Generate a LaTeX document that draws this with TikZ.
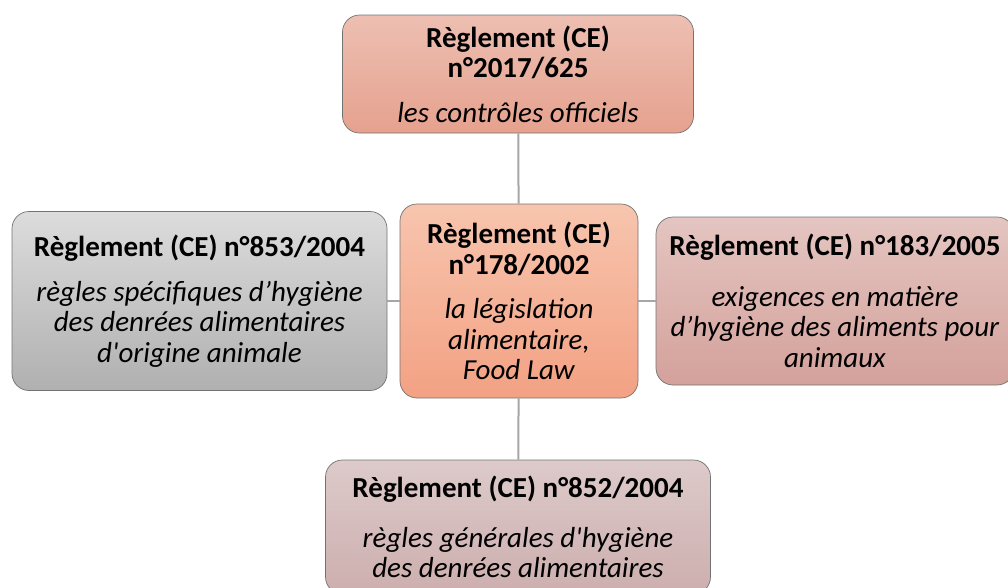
\documentclass[tikz,border=0pt]{standalone}
\usepackage{fontspec}
\setmainfont{Carlito}
\usepackage{tikz}

\definecolor{ctrlTop}{HTML}{EDBFB2}
\definecolor{ctrlBot}{HTML}{E6A18E}
\definecolor{foodTop}{HTML}{F7C5AE}
\definecolor{foodBot}{HTML}{F3A183}
\definecolor{anTop}{HTML}{DCDCDC}
\definecolor{anBot}{HTML}{B0B0B0}
\definecolor{feedTop}{HTML}{E4C5C1}
\definecolor{feedBot}{HTML}{D4A19B}
\definecolor{genTop}{HTML}{DDCACA}
\definecolor{genBot}{HTML}{CDAEAE}
\definecolor{linkgray}{HTML}{A6A6A6}

\tikzset{
	regbox/.style={shape=rectangle,rounded corners=17pt,draw=black!55,line width=0.7pt,
		align=center,inner sep=0pt,font=\fontsize{29}{30.5}\selectfont},
	link/.style={draw=linkgray,line width=2pt},
}

\begin{document}
\begin{tikzpicture}[x=1pt,y=-1pt]
	\useasboundingbox (0,0) rectangle (1008,587);

	\node [regbox,minimum width=351,minimum height=118,top color=ctrlTop,bottom color=ctrlBot] (CO) at (518,74) {\textbf{Règlement (CE)}\\\textbf{n°2017/625}\\[14pt]\textit{les contrôles officiels}};
	\node [regbox,minimum width=238,minimum height=194,top color=foodTop,bottom color=foodBot] (FL) at (519,301) {\textbf{Règlement (CE)}\\\textbf{n°178/2002}\\[14pt]\textit{la législation}\\\textit{alimentaire,}\\\textit{Food Law}};
	\node [regbox,minimum width=375,minimum height=179,top color=anTop,bottom color=anBot] (AN) at (199.5,301) {\textbf{Règlement (CE) n°853/2004}\\[14pt]\textit{règles spécifiques d’hygiène}\\\textit{des denrées alimentaires}\\\textit{d\textquotesingle origine animale}};
	\node [regbox,minimum width=358,minimum height=168,top color=feedTop,bottom color=feedBot] (FE) at (835,301) {\textbf{Règlement (CE) n°183/2005}\\[20pt]\textit{exigences en matière}\\\textit{d’hygiène des aliments pour}\\\textit{animaux}};
	\node [regbox,minimum width=385,minimum height=134,top color=genTop,bottom color=genBot] (GE) at (518,527) {\textbf{Règlement (CE) n°852/2004}\\[19pt]\textit{règles générales d\textquotesingle hygiène}\\\textit{des denrées alimentaires}};

	\path [link] (CO) edge (FL);
	\path [link] (FL) edge (GE);
	\path [link] (AN) edge (FL);
	\path [link] (FL) edge (FE);
\end{tikzpicture}
\end{document}
